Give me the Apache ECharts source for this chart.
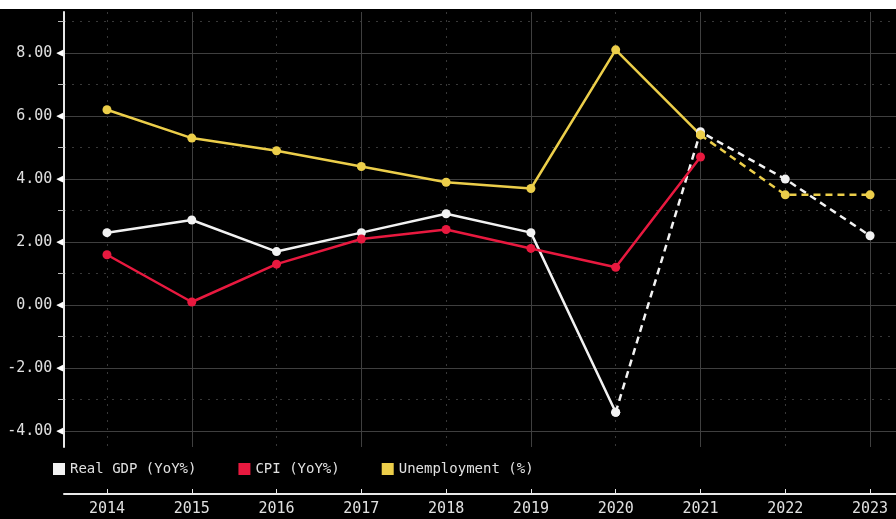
<!DOCTYPE html>
<html>
<head>
<meta charset="utf-8">
<script src="https://cdn.jsdelivr.net/npm/echarts@6/dist/echarts.min.js"></script>
<style>
html,body{margin:0;padding:0;background:#ffffff;}
#chart{position:absolute;left:0;top:9px;width:896px;height:510px;background:#000;}
</style>
</head>
<body>
<div id="chart"></div>
<script>
// ---- data ----
const years = [2014, 2015, 2016, 2017, 2018, 2019, 2020, 2021, 2022, 2023];
const gdp   = [2.3, 2.7, 1.7, 2.3, 2.9, 2.3, -3.4, 5.5, 4.0, 2.2];
const cpi   = [1.6, 0.1, 1.3, 2.1, 2.4, 1.8, 1.2, 4.7];
const unemp = [6.2, 5.3, 4.9, 4.4, 3.9, 3.7, 8.1, 5.4, 3.5, 3.5];
const gdpForecastFrom = 6;   // dashed from 2020 on
const unempForecastFrom = 7; // dashed from 2021 on
const yMajorTicks = [-4, -2, 0, 2, 4, 6, 8];
const yMinorTicks = [-3, -1, 1, 3, 5, 7, 9];
const xOddYears = [2015, 2017, 2019, 2021, 2023];
const xEvenYears = [2014, 2016, 2018, 2020, 2022];
const names = ['Real GDP (YoY%)', 'CPI (YoY%)', 'Unemployment (%)'];

const pairs = (vals, from, to) => vals.slice(from, to).map((v, i) => [years[from + i], v]);

const C_GDP = '#f2f2f2', C_CPI = '#e8193f', C_UN = '#ecce4a';
const FONT = 'DejaVu Sans Mono';
const TXT = '#e0e0e0';
const XMIN = 2013.493, XMAX = 2023.306, YMIN = -4.5, YMAX = 9.3;

const chart = echarts.init(document.getElementById('chart'));

function lineSeries(name, data, color, dashed) {
  return {
    name: name, type: 'line', data: data, xAxisIndex: 0, yAxisIndex: 0,
    symbol: 'circle', symbolSize: 9,
    itemStyle: { color: color },
    lineStyle: { color: color, width: 2.5, type: dashed ? [7, 5] : 'solid' },
    animation: false
  };
}

const hiddenX = (vals, type) => ({
  type: 'value', min: XMIN, max: XMAX, gridIndex: 0,
  axisLine: { show: false, onZero: false }, axisLabel: { show: false },
  axisTick: { show: false, customValues: vals },
  splitLine: { show: true, lineStyle: { color: type === 'solid' ? '#3f3f3f' : '#383838', width: 1, type: type === 'solid' ? 'solid' : [2, 6] } }
});

chart.setOption({
  backgroundColor: '#000',
  animation: false,
  grid: { left: 64, right: 0, top: 3, bottom: 72 },
  legend: {
    data: names, left: 48, top: 448,
    icon: 'rect', itemWidth: 12, itemHeight: 12, itemGap: 42,
    textStyle: { color: TXT, fontFamily: FONT, fontSize: 14 }
  },
  xAxis: [
    {
      type: 'value', min: XMIN, max: XMAX, position: 'bottom', offset: 47,
      axisLine: { show: true, onZero: false, lineStyle: { color: '#e8e8e8', width: 2 } },
      axisTick: { show: true, inside: true, length: 5, customValues: years, lineStyle: { color: '#e8e8e8', width: 1 } },
      axisLabel: { customValues: years, color: TXT, fontFamily: FONT, fontSize: 15, margin: 8, formatter: v => String(v) },
      splitLine: { show: false }
    },
    hiddenX(xOddYears, 'solid'),
    hiddenX(xEvenYears, 'dotted')
  ],
  yAxis: [
    {
      type: 'value', min: YMIN, max: YMAX,
      axisLine: { show: true, onZero: false, lineStyle: { color: '#e8e8e8', width: 2 } },
      axisTick: { show: false, customValues: yMajorTicks },
      axisLabel: {
        customValues: yMajorTicks, color: TXT, fontFamily: FONT, fontSize: 15, margin: 1,
        formatter: v => v.toFixed(2) + '{t|◀}',
        rich: { t: { color: '#ffffff', fontSize: 11, padding: [0, 0, 0, 4] } }
      },
      splitLine: { show: true, lineStyle: { color: '#3f3f3f', width: 1 } }
    },
    {
      type: 'value', min: YMIN, max: YMAX, position: 'left',
      axisLine: { show: false, onZero: false },
      axisLabel: { show: false },
      axisTick: { show: true, length: 6, customValues: yMinorTicks, lineStyle: { color: '#bbbbbb', width: 1 } },
      splitLine: { show: true, lineStyle: { color: '#383838', width: 1, type: [2, 6] } }
    }
  ],
  series: [
    lineSeries(names[0], pairs(gdp, 0, gdpForecastFrom + 1), C_GDP, false),
    lineSeries(names[0], pairs(gdp, gdpForecastFrom, gdp.length), C_GDP, true),
    lineSeries(names[1], pairs(cpi, 0, cpi.length), C_CPI, false),
    lineSeries(names[2], pairs(unemp, 0, unempForecastFrom + 1), C_UN, false),
    lineSeries(names[2], pairs(unemp, unempForecastFrom, unemp.length), C_UN, true)
  ]
});
</script>
</body>
</html>
